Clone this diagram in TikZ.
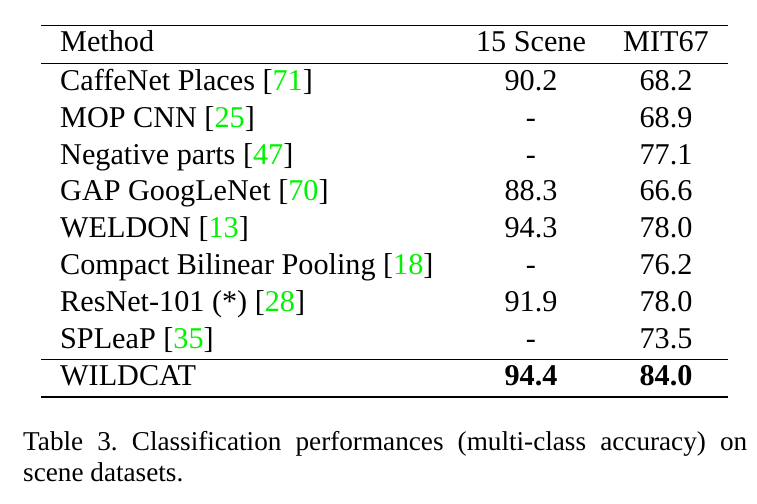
\documentclass[tikz,border=0pt]{standalone}
\usepackage{fontspec}
\setmainfont{Liberation Serif}
\usepackage{xcolor}
\definecolor{citegreen}{rgb}{0,0.95,0}
\newcommand{\citeref}[1]{[\textcolor{citegreen}{#1}]}
\frenchspacing

\begin{document}
\begin{tikzpicture}[x=1pt, y=-1pt, every node/.style={font=\fontsize{30.2}{36}\selectfont, inner sep=0pt}]
			\useasboundingbox (0,0) rectangle (757,503);
			
			% rules
			\draw[line width=1.1pt] (41,25.5) -- (728,25.5);
			\draw[line width=0.9pt] (41,63) -- (728,63);
			\draw[line width=0.9pt] (41,359) -- (728,359);
			\draw[line width=1.1pt] (41,397) -- (728,397);
			
			% header
			\node[anchor=base west] (methhead) at (60,52) {Method};
			\node[anchor=base] (scenehead) at (531,52) {15 Scene};
			\node[anchor=base] (mithead) at (666,52) {MIT67};
			
			% rows
			\foreach \meth/\sc/\mit [count=\i] in {CaffeNet Places \citeref{71}/90.2/68.2,
				MOP CNN \citeref{25}/-/68.9,
				Negative parts \citeref{47}/-/77.1,
				GAP GoogLeNet \citeref{70}/88.3/66.6,
				WELDON \citeref{13}/94.3/78.0,
				Compact Bilinear Pooling \citeref{18}/-/76.2,
				ResNet-101 (*) \citeref{28}/91.9/78.0,
				SPLeaP \citeref{35}/-/73.5}
			{
				\node[anchor=base west] (meth\i) at (60,{90.5+36.8*(\i-1)}) {\meth};
				\node[anchor=base] (scene\i) at (531,{90.5+36.8*(\i-1)}) {\sc};
				\node[anchor=base] (mit\i) at (666,{90.5+36.8*(\i-1)}) {\mit};
			}
			
			% ours
			\node[anchor=base west] (methours) at (60,385) {WILDCAT};
			\node[anchor=base] (sceneours) at (531,385) {\textbf{94.4}};
			\node[anchor=base] (mitours) at (666,385) {\textbf{84.0}};
			
			% caption
			\node[anchor=base west, text width=724pt, align=justify, font=\fontsize{27.2}{31.5}\selectfont] (caption) at (23,450)
				{Table 3. Classification performances (multi-class accuracy) on scene datasets.};
		\end{tikzpicture}
\end{document}
